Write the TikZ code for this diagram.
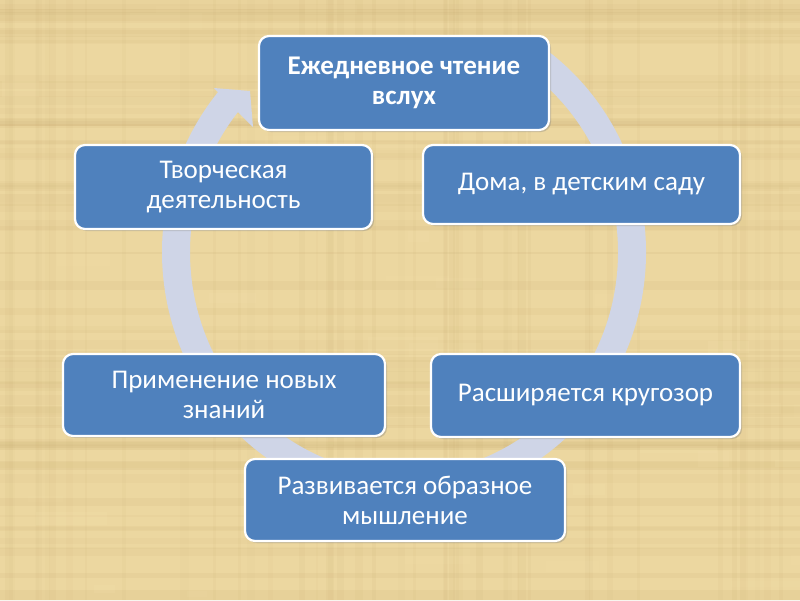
\documentclass[tikz,border=0pt]{standalone}
\usepackage{fontspec}
\setmainfont{Carlito}
\usetikzlibrary{shadows}
\definecolor{bgc}{RGB}{236,215,160}
\definecolor{bgdark}{RGB}{190,160,100}
\definecolor{bglight}{RGB}{250,232,180}
\definecolor{boxc}{RGB}{79,129,189}
\definecolor{ringc}{RGB}{207,213,231}
\tikzset{
  cyclebox/.style={draw=white, line width=2.2pt, fill=boxc, rounded corners=10pt,
    text=white, align=center, font=\fontsize{27}{30}\selectfont, inner sep=4pt,
    drop shadow={opacity=0.35, shadow xshift=2pt, shadow yshift=-2pt}},
  ringline/.style={draw=ringc, line width=28pt},
  ringhead/.style={fill=ringc}
}
\begin{document}
\begin{tikzpicture}[x=1pt,y=-1pt]
\useasboundingbox (0,0) rectangle (800,600);
% background
\fill[bgc] (0,0) rectangle (800,600);
\pgfmathsetseed{11}
\foreach \i in {1,...,70}{
  \pgfmathsetmacro\yy{rnd*600}
  \pgfmathsetmacro\hh{2+rnd*9}
  \pgfmathsetmacro\op{0.04+rnd*0.07}
  \fill[bgdark, opacity=\op] (0,\yy) rectangle (800,\yy+\hh);
}
\foreach \i in {1,...,45}{
  \pgfmathsetmacro\xx{rnd*800}
  \pgfmathsetmacro\ww{2+rnd*8}
  \pgfmathsetmacro\op{0.03+rnd*0.05}
  \fill[bgdark, opacity=\op] (\xx,0) rectangle (\xx+\ww,600);
}
\foreach \i in {1,...,40}{
  \pgfmathsetmacro\xx{rnd*800}
  \pgfmathsetmacro\yy{rnd*600}
  \pgfmathsetmacro\op{0.06+rnd*0.08}
  \fill[bglight, opacity=\op] (\xx,\yy) rectangle (\xx+20+rnd*60,\yy+5+rnd*12);
}
% ring
\coordinate (ctr) at (404,252);
\draw[ringline] (ctr) ++(-55:228 and 236) arc[start angle=-55, end angle=220.5, x radius=228, y radius=236];
\coordinate (hw1) at (214,88);
\coordinate (htip) at (250,91);
\coordinate (hw2) at (253,127);
\fill[ringhead] (hw1) -- (htip) -- (hw2) -- cycle;
% boxes
\node[cyclebox, minimum width=290pt, minimum height=94pt] (n1) at (404,83) {\bfseries Ежедневное чтение\\\bfseries вслух};
\node[cyclebox, minimum width=317pt, minimum height=79pt] (n2) at (581.5,184.5) {Дома, в детским саду};
\node[cyclebox, minimum width=309pt, minimum height=83pt] (n3) at (585.5,395.5) {Расширяется кругозор};
\node[cyclebox, minimum width=320pt, minimum height=82pt] (n4) at (405,500) {Развивается образное\\мышление};
\node[cyclebox, minimum width=322pt, minimum height=82pt] (n5) at (224,395) {Применение новых\\знаний};
\node[cyclebox, minimum width=297pt, minimum height=84pt] (n6) at (223.5,187) {Творческая\\деятельность};
\end{tikzpicture}
\end{document}
